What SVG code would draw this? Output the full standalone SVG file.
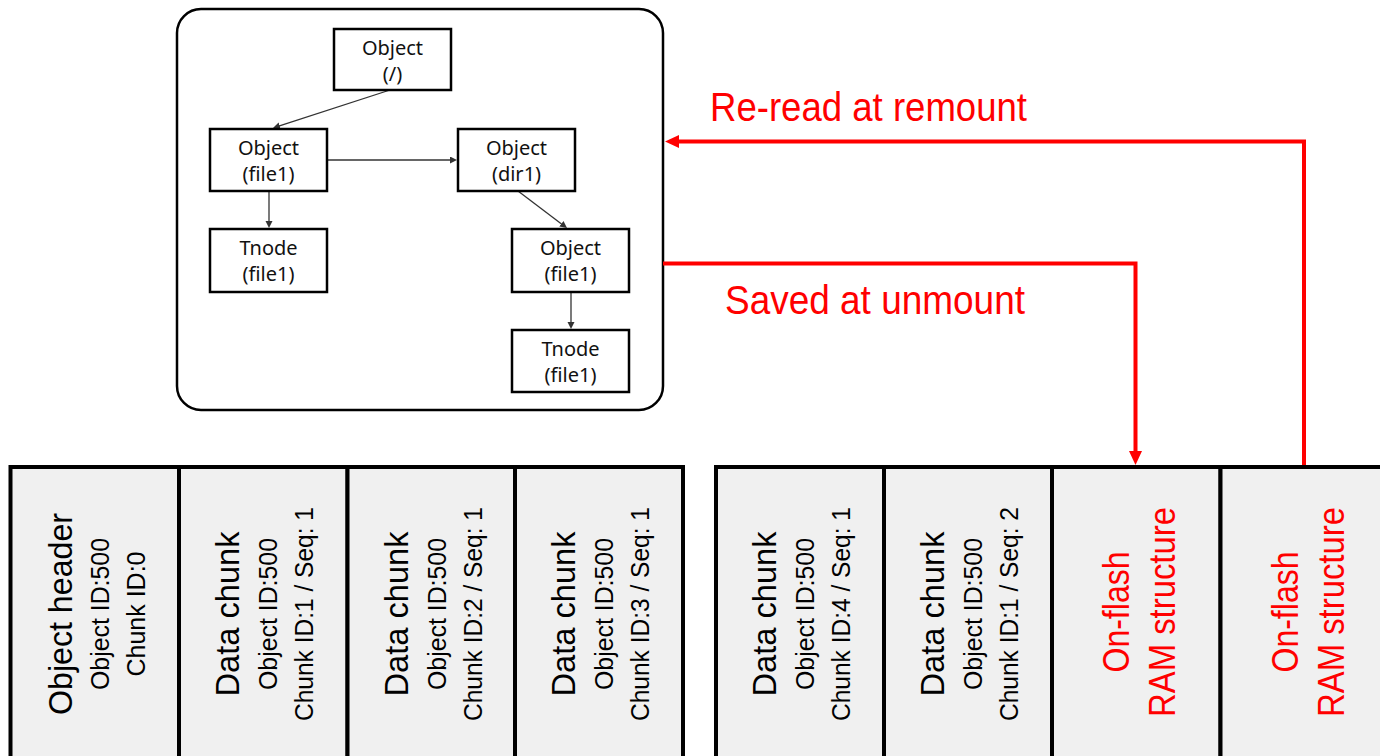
<svg xmlns="http://www.w3.org/2000/svg" width="1380" height="756" viewBox="0 0 1380 756">
<defs>
<style>
.node rect{fill:#fff;stroke:#000;stroke-width:2.5}
.node text{font-family:"Noto Sans","DejaVu Sans",sans-serif;font-size:20px;fill:#111;text-anchor:middle}
.conn{stroke:#333;stroke-width:1.3;fill:none;marker-end:url(#ah)}
.red{stroke:#ff0000;stroke-width:4;fill:none}
.cell rect{fill:#f0f0f0;stroke:#000;stroke-width:4}
.big{font-family:"Liberation Sans",Arial,sans-serif;font-size:34px;fill:#000;text-anchor:middle}
.sm{font-family:"Liberation Sans",Arial,sans-serif;font-size:26px;fill:#000;text-anchor:middle}
.rt{font-family:"Liberation Sans",Arial,sans-serif;font-size:36px;fill:#ff0000;text-anchor:middle}
.lbl{font-family:"Liberation Sans",Arial,sans-serif;fill:#ff0000}
</style>
<marker id="ah" markerUnits="userSpaceOnUse" markerWidth="8" markerHeight="8" refX="1" refY="3.5" orient="auto"><path d="M0,0 L7,3.5 L0,7 z" fill="#333"/></marker>
<marker id="rah" markerUnits="userSpaceOnUse" markerWidth="16" markerHeight="14" refX="2" refY="6.5" orient="auto"><path d="M0,0 L14,6.5 L0,13 z" fill="#ff0000"/></marker>
</defs>
<rect id="container" x="177" y="9" width="486" height="401" rx="24" ry="24" fill="#fff" stroke="#000" stroke-width="2.5"/>
<g id="connectors">
<path class="conn" d="M390,90 L278.7,126.1"/>
<path class="conn" d="M327,160 L451,160"/>
<path class="conn" d="M269,191 L269,222"/>
<path class="conn" d="M518,191 L562.2,224.4"/>
<path class="conn" d="M571,292 L571,323"/>
<path class="red" d="M663,263.5 H1135.5 V453" marker-end="url(#rah)"/>
<path class="red" d="M1304,467 V141.5 H677" marker-end="url(#rah)"/>
</g>
<g id="node-root" class="node"><rect x="334" y="29" width="117" height="61"/><text x="392.5" y="54.5">Object</text><text x="392.5" y="80.5">(/)</text></g>
<g id="node-file1" class="node"><rect x="210" y="129" width="117" height="62"/><text x="268.5" y="155">Object</text><text x="268.5" y="181">(file1)</text></g>
<g id="node-dir1" class="node"><rect x="458" y="129" width="117" height="62"/><text x="516.5" y="155">Object</text><text x="516.5" y="181">(dir1)</text></g>
<g id="node-tnode1" class="node"><rect x="210" y="229" width="117" height="63"/><text x="268.5" y="255">Tnode</text><text x="268.5" y="281">(file1)</text></g>
<g id="node-file1b" class="node"><rect x="512" y="229" width="117" height="63"/><text x="570.5" y="255">Object</text><text x="570.5" y="281">(file1)</text></g>
<g id="node-tnode2" class="node"><rect x="512" y="330" width="117" height="62"/><text x="570.5" y="356">Tnode</text><text x="570.5" y="382">(file1)</text></g>
<text id="label-reread" class="lbl" x="710" y="121" font-size="40" textLength="317" lengthAdjust="spacingAndGlyphs">Re-read at remount</text>
<text id="label-saved" class="lbl" x="725" y="314" font-size="41" textLength="300" lengthAdjust="spacingAndGlyphs">Saved at unmount</text>
<g id="cell1" class="cell"><rect x="10.5" y="467" width="168.5" height="300"/>
<g transform="translate(10.5,614) rotate(-90)"><text class="big" x="0" y="61" textLength="202" lengthAdjust="spacingAndGlyphs">Object header</text><text class="sm" x="0" y="98" textLength="152" lengthAdjust="spacingAndGlyphs">Object ID:500</text><text class="sm" x="0" y="134" textLength="125" lengthAdjust="spacingAndGlyphs">Chunk ID:0</text></g></g>
<g id="cell2" class="cell"><rect x="179" y="467" width="168.5" height="300"/>
<g transform="translate(179,614) rotate(-90)"><text class="big" x="0" y="60" textLength="165" lengthAdjust="spacingAndGlyphs">Data chunk</text><text class="sm" x="0" y="98" textLength="152" lengthAdjust="spacingAndGlyphs">Object ID:500</text><text class="sm" x="0" y="134" textLength="214" lengthAdjust="spacingAndGlyphs">Chunk ID:1 / Seq: 1</text></g></g>
<g id="cell3" class="cell"><rect x="347.5" y="467" width="167.5" height="300"/>
<g transform="translate(347.5,614) rotate(-90)"><text class="big" x="0" y="60" textLength="165" lengthAdjust="spacingAndGlyphs">Data chunk</text><text class="sm" x="0" y="98" textLength="152" lengthAdjust="spacingAndGlyphs">Object ID:500</text><text class="sm" x="0" y="134" textLength="214" lengthAdjust="spacingAndGlyphs">Chunk ID:2 / Seq: 1</text></g></g>
<g id="cell4" class="cell"><rect x="515" y="467" width="168" height="300"/>
<g transform="translate(515,614) rotate(-90)"><text class="big" x="0" y="60" textLength="165" lengthAdjust="spacingAndGlyphs">Data chunk</text><text class="sm" x="0" y="98" textLength="152" lengthAdjust="spacingAndGlyphs">Object ID:500</text><text class="sm" x="0" y="134" textLength="214" lengthAdjust="spacingAndGlyphs">Chunk ID:3 / Seq: 1</text></g></g>
<g id="cell5" class="cell"><rect x="716" y="467" width="168" height="300"/>
<g transform="translate(716,614) rotate(-90)"><text class="big" x="0" y="60" textLength="165" lengthAdjust="spacingAndGlyphs">Data chunk</text><text class="sm" x="0" y="98" textLength="152" lengthAdjust="spacingAndGlyphs">Object ID:500</text><text class="sm" x="0" y="134" textLength="214" lengthAdjust="spacingAndGlyphs">Chunk ID:4 / Seq: 1</text></g></g>
<g id="cell6" class="cell"><rect x="884" y="467" width="168" height="300"/>
<g transform="translate(884,614) rotate(-90)"><text class="big" x="0" y="60" textLength="165" lengthAdjust="spacingAndGlyphs">Data chunk</text><text class="sm" x="0" y="98" textLength="152" lengthAdjust="spacingAndGlyphs">Object ID:500</text><text class="sm" x="0" y="134" textLength="214" lengthAdjust="spacingAndGlyphs">Chunk ID:1 / Seq: 2</text></g></g>
<g id="cell7" class="cell"><rect x="1052" y="467" width="168.5" height="300"/>
<g transform="translate(1052,612) rotate(-90)"><text class="rt" x="0" y="77" textLength="121" lengthAdjust="spacingAndGlyphs">On-flash</text><text class="rt" x="0" y="123" textLength="210" lengthAdjust="spacingAndGlyphs">RAM structure</text></g></g>
<g id="cell8" class="cell"><rect x="1220.5" y="467" width="180" height="300"/>
<g transform="translate(1220.5,612) rotate(-90)"><text class="rt" x="0" y="77" textLength="121" lengthAdjust="spacingAndGlyphs">On-flash</text><text class="rt" x="0" y="123" textLength="210" lengthAdjust="spacingAndGlyphs">RAM structure</text></g></g>
</svg>
